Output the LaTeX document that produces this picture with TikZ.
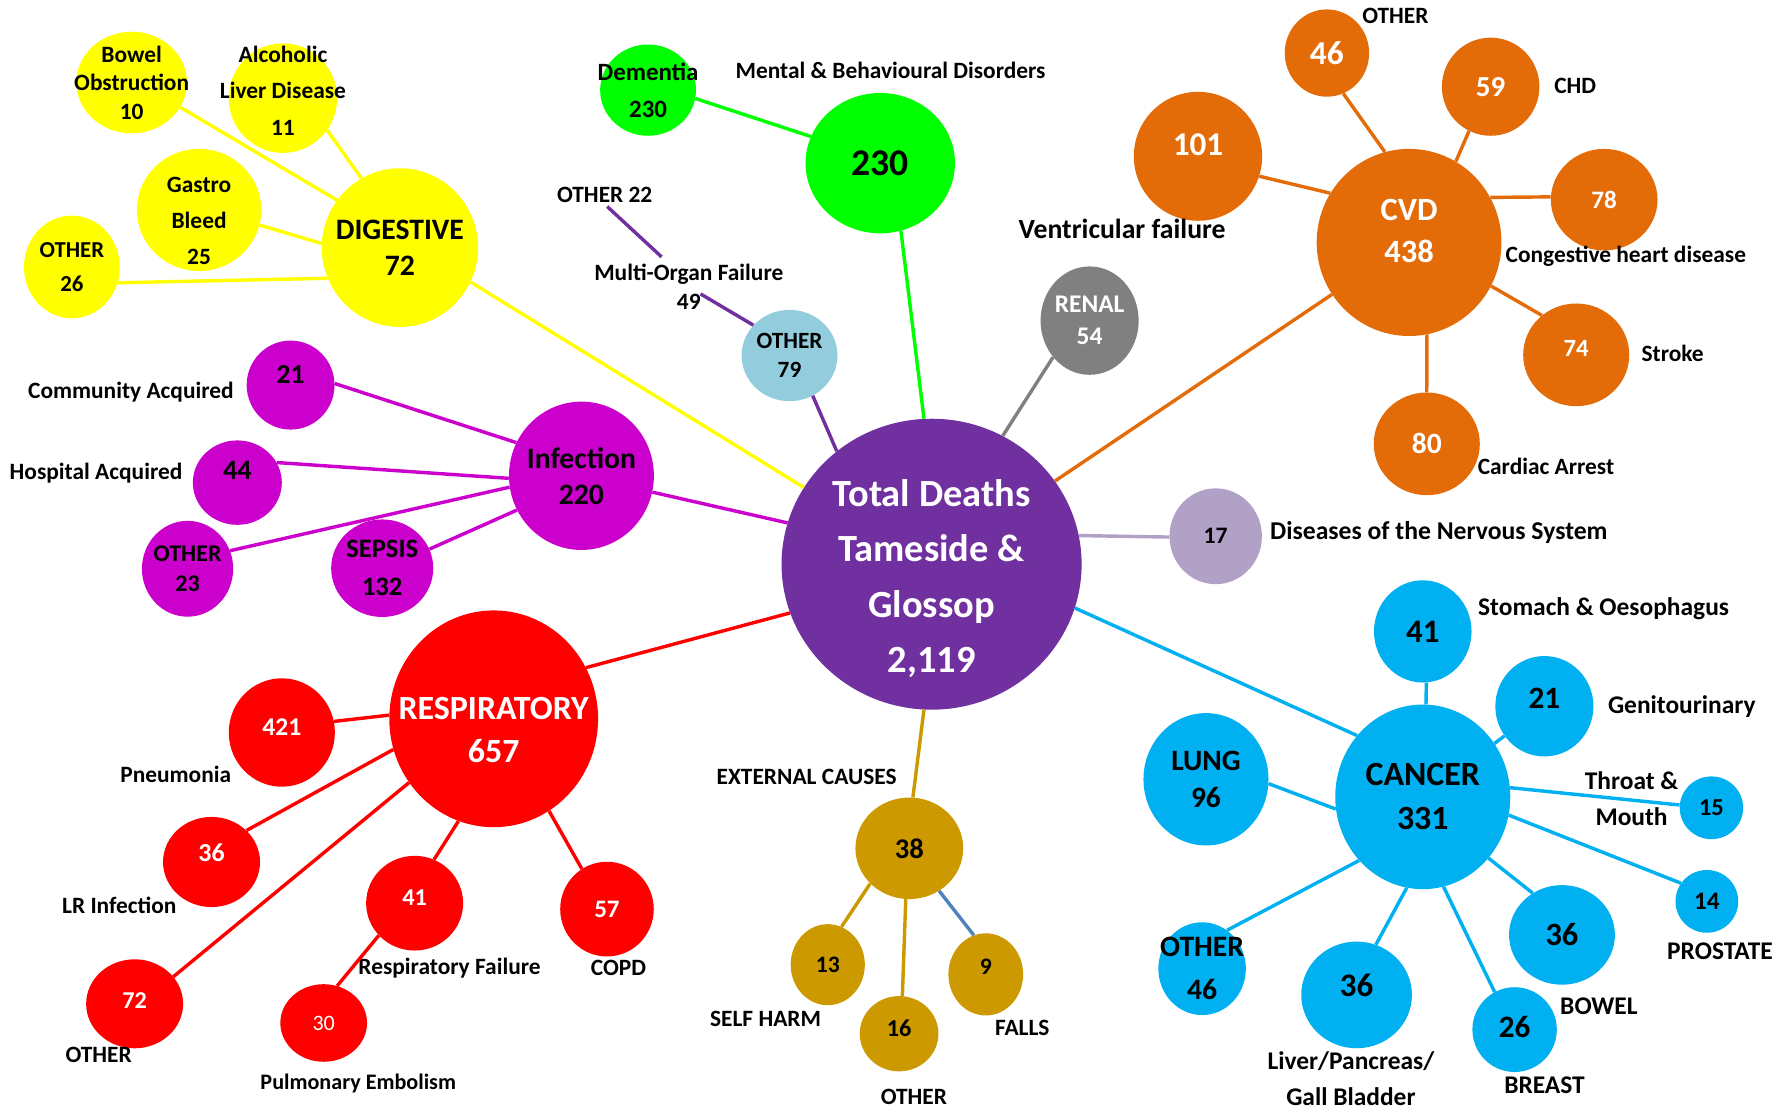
\documentclass[tikz,border=0pt]{standalone}
\usepackage{fontspec}
\setmainfont{Carlito}
\usetikzlibrary{shapes.geometric}

\definecolor{deathpurple}{HTML}{7030A0}
\definecolor{mentalgreen}{HTML}{00FF00}
\definecolor{miscblue}{HTML}{93CDDD}
\definecolor{renalgrey}{HTML}{808080}
\definecolor{digestyellow}{HTML}{FFFF00}
\definecolor{infectpink}{HTML}{CC00CC}
\definecolor{respred}{HTML}{FF0000}
\definecolor{cvdorange}{HTML}{E36C09}
\definecolor{nervelilac}{HTML}{B2A1C7}
\definecolor{cancerblue}{HTML}{00B0F0}
\definecolor{extgold}{HTML}{CC9900}
\definecolor{fallsblue}{HTML}{4F81BD}

\tikzstyle{blob} = [ellipse, inner sep=-100pt, align=center]
\tikzstyle{tag} = [align=center, inner sep=1pt, font=\bfseries\fontsize{20.5}{31}\selectfont]
\tikzstyle{link} = [line width=3pt]
\tikzset{sz/.style 2 args={minimum width=#1pt, minimum height=#2pt},
  fs/.style 2 args={font=\bfseries\fontsize{#1}{#2}\selectfont}}

\begin{document}
\begin{tikzpicture}[x=1pt, y=-1pt]
\useasboundingbox (0,0) rectangle (1568,972);

\node [blob, fill=deathpurple, text=white, sz={263}{255}, fs={33.7}{48.5}] (total) at (816.5,494.5)
  {\rule{0pt}{49pt}Total Deaths\\Tameside \&\\Glossop\\2,119};

\node [blob, fill=mentalgreen, sz={131}{123}, fs={33}{33}] (mental) at (771.5,143) {230};
\node [blob, fill=mentalgreen, sz={84}{80}, fs={21.8}{32.5}] (dementia) at (568,79) {Dementia\\230};
\node [blob, fill=miscblue, sz={84}{80}, fs={20.4}{25.7}] (misc) at (692,311.6) {OTHER\\79};
\node [blob, fill=renalgrey, text=white, sz={86}{95}, fs={22.3}{28}] (renal) at (955,281) {RENAL\\54};
\node [blob, fill=nervelilac, sz={81}{84}, fs={20.7}{20.7}] (nerve) at (1065.5,470) {17};

\node [blob, fill=digestyellow, sz={137}{139}, fs={26}{32}] (digest) at (350.5,217) {DIGESTIVE\\72};
\foreach \n/\x/\y/\w/\h/\f/\b/\d/\t in {
    bowel/115.4/72.3/97/89/20.5/24.9/0/{Bowel\\Obstruction\\10},
    alcohol/248/86/95/96/20.5/32.3/13/{Alcoholic\\Liver Disease\\11},
    gastro/174.5/184/109/107/20.5/31.7/0/{\rule{0pt}{33pt}Gastro\\Bleed\\25},
    digoth/63/234/84/90/20/30/0/{OTHER\\26}}
  \node [blob, fill=digestyellow, sz={\w}{\h}, fs={\f}{\b}] (\n) at (\x,\y) {\t\rule[-\d pt]{0pt}{\d pt}};

\node [blob, fill=infectpink, sz={127}{130}, fs={26}{31.5}] (infect) at (509.6,417) {Infection\\220};
\foreach \n/\x/\y/\w/\h/\f/\b/\d/\t in {
    comm/254.7/337.5/77/78/24/24/18/21,
    hosp/208/423/78/74/24.7/24.7/21/44,
    infoth/164.4/498.5/80/84/21/25.5/0/{OTHER\\23},
    sepsis/335/498/89.5/85.5/23.3/33/0/{SEPSIS\\132}}
  \node [blob, fill=infectpink, sz={\w}{\h}, fs={\f}{\b}] (\n) at (\x,\y) {\t\rule[-\d pt]{0pt}{\d pt}};

\node [blob, fill=respred, text=white, sz={183}{190}, fs={29.7}{38}] (resp) at (432.7,630) {\rule{0pt}{39pt}RESPIRATORY\\657};
\foreach \n/\x/\y/\w/\h/\f/\b/\d/\t in {
    pneu/247/642/93/95/22.4/22.4/9/421,
    lri/185.4/755.5/85/79/22.7/22.7/16/36,
    resoth/118/879.8/85/78/21.2/21.2/5/72,
    resfail/363.4/791.6/85/83/21.2/21.2/10/41,
    copd/532/796.8/82/83/22/22/0/57}
  \node [blob, fill=respred, text=white, sz={\w}{\h}, fs={\f}{\b}] (\n) at (\x,\y) {\t\rule[-\d pt]{0pt}{\d pt}};
\node [blob, fill=respred, text=white, sz={76}{68}, font=\fontsize{19.3}{19.3}\selectfont] (pe) at (283.7,896.6) {30};

\node [blob, fill=cvdorange, text=white, sz={162}{164}, fs={28.5}{36.6}] (cvd) at (1235,212.5) {CVD\\438\rule[-20pt]{0pt}{20pt}};
\foreach \n/\x/\y/\w/\h/\f/\b/\d/\t in {
    cvdoth/1163/46.5/74/76.5/29.3/29.3/0/46,
    chd/1306.5/76/85.5/86/25.4/25.4/0/59,
    chf/1406/175/93.5/89/22/22/0/78,
    stroke/1381.5/311/93/90/21.7/21.7/11/74,
    arrest/1250.5/389/93/90/25.8/25.8/0/80,
    ventric/1050/137/112.5/113/29.1/29.1/20/101}
  \node [blob, fill=cvdorange, text=white, sz={\w}{\h}, fs={\f}{\b}] (\n) at (\x,\y) {\t\rule[-\d pt]{0pt}{\d pt}};

\node [blob, fill=cancerblue, sz={153.4}{161.8}, fs={29.7}{38.5}] (cancer) at (1247,698.4) {CANCER\\331};
\foreach \n/\x/\y/\w/\h/\f/\b/\d/\t in {
    stomach/1247/553.4/85.5/89.6/28.8/28.8/0/41,
    genito/1353.6/619/86/88/27.3/27.3/14/21,
    throat/1500/708/55.6/55/21.4/21.4/0/15,
    prost/1496/790/55/55/22/22/0/14,
    cbowel/1369/819.4/92.8/87.3/28.4/28.4/0/36,
    breast/1327.5/902.4/74/74.3/27.3/27.3/4/26,
    liver/1189/872/97/93.5/28.8/28.8/17/36,
    cother/1053.6/849/76.7/81.3/26/37.4/0/{OTHER\\46},
    lung/1057/683/109.6/116/25.9/33/0/{LUNG\\96}}
  \node [blob, fill=cancerblue, sz={\w}{\h}, fs={\f}{\b}] (\n) at (\x,\y) {\t\rule[-\d pt]{0pt}{\d pt}};

\node [blob, fill=extgold, sz={94.5}{89}, fs={25}{25}] (ext) at (797,743.5) {38};
\foreach \n/\x/\y/\w/\h/\f/\b/\d/\t in {
    selfharm/725.5/845.5/65/71/20.7/20.7/0/13,
    extoth/788/906/69/66/21.3/21.3/10/16,
    falls/864/854/65.5/72/20.7/20.7/14/9}
  \node [blob, fill=extgold, sz={\w}{\h}, fs={\f}{\b}] (\n) at (\x,\y) {\t\rule[-\d pt]{0pt}{\d pt}};

\foreach \n/\x/\y/\t in {
    mentaltag/780.5/62/{Mental \& Behavioural Disorders},
    other22/530/171/{OTHER 22},
    cvdothtag/1223/14/OTHER, chdtag/1380.6/75/CHD,
    chftag/1425/224.4/{Congestive heart disease},
    stroketag/1466/310/Stroke, arresttag/1355/408.4/{Cardiac Arrest},
    pneutag/154/678.4/Pneumonia, lritag/104.6/793.2/{LR Infection},
    resothtag/86.5/924.6/OTHER, resfailtag/394/848.7/{Respiratory Failure},
    copdtag/542/848/COPD,
    exttag/707/681/{EXTERNAL CAUSES}, selftag/671/893/{SELF HARM},
    extothtag/801/961/OTHER, fallstag/896/901/FALLS}
  \node [tag] (\n) at (\x,\y) {\t};

\foreach \n/\x/\y/\t in {
    stomachtag/1405.5/533.8/{Stomach \& Oesophagus},
    genitotag/1474/619/Genitourinary,
    throattag/1430/700/{Throat \&\\Mouth},
    prosttag/1507.5/834/PROSTATE, cboweltag/1401.4/882/BOWEL,
    breasttag/1353.7/951/BREAST,
    livertag/1184/945/{Liver/Pancreas/\\Gall Bladder}}
  \node [tag, fs={22.3}{31.5}] (\n) at (\x,\y) {\t};

\node [tag, fs={20.5}{25}] (multi) at (603.7,251.5) {Multi-Organ Failure\\49};
\node [tag, fs={24.3}{24.3}] (ventag) at (983.5,201) {Ventricular failure};
\node [tag, fs={19.4}{19.4}] (petag) at (314,950) {Pulmonary Embolism};
\node [tag, anchor=east] (commtag) at (206,344) {Community Acquired};
\node [tag, anchor=east] (hosptag) at (161,414.7) {Hospital Acquired};
\node [tag, anchor=west, fs={22.5}{22.5}] (nervetag) at (1112,467) {Diseases of the Nervous System};

\foreach \s/\e in {mental.287/total.93, dementia.350/mental.159}
  \draw [link, mentalgreen] (\s) -- (\e);
\draw [link, deathpurple] (misc.300) -- (total.130);
\draw [link, deathpurple, shorten >=12pt] (misc.140) -- (multi.center);
\draw [link, deathpurple, shorten <=8pt, shorten >=3pt] ([xshift=-18pt]multi.north) -- (other22.south);
\draw [link, renalgrey] (renal.225) -- (total.61);
\draw [link, nervelilac] (total.11) -- (nerve.181);

\foreach \s/\e in {bowel.333/digest.143, alcohol.324/digest.119, gastro.346/digest.177,
    digoth.341/digest.203, digest.334/total.149}
  \draw [link, digestyellow] (\s) -- (\e);

\foreach \s/\e in {comm.2/infect.153, hosp.27/infect.182, infoth.23/infect.189,
    sepsis.22/infect.208, infect.347/total.164}
  \draw [link, infectpink] (\s) -- (\e);

\foreach \s/\e in {resp.29/total.199, resp.178/pneu.12, resp.197/lri.42, resp.217/resoth.35,
    resp.251/resfail.66, resp.301/copd.122, resfail.222/pe.70}
  \draw [link, respred] (\s) -- (\e);

\foreach \s/\e in {cvd/total, cvd.105/cvdoth.292, cvd.60/chd.244, cvd.148/ventric.342,
    cvd.29/chf.177, cvd.332/stroke.131, cvd.281/arrest.90}
  \draw [link, cvdorange] (\s) -- (\e);

\foreach \s/\e in {cancer.137/total.343, cancer.88/stomach.274, cancer/genito,
    cancer.6/throat.175, cancer.348/prost.145, cancer.317/cbowel.125,
    cancer.283/breast.118, cancer.260/liver.69, cancer.225/cother.57, cancer.188/lung.356}
  \draw [link, cancerblue] (\s) -- (\e);

\foreach \s/\e in {ext.86/total.267, ext.222/selfharm.70, ext.266/extoth.85}
  \draw [link, extgold] (\s) -- (\e);
\draw [link, fallsblue] (ext.305) -- (falls.107);

\end{tikzpicture}
\end{document}
